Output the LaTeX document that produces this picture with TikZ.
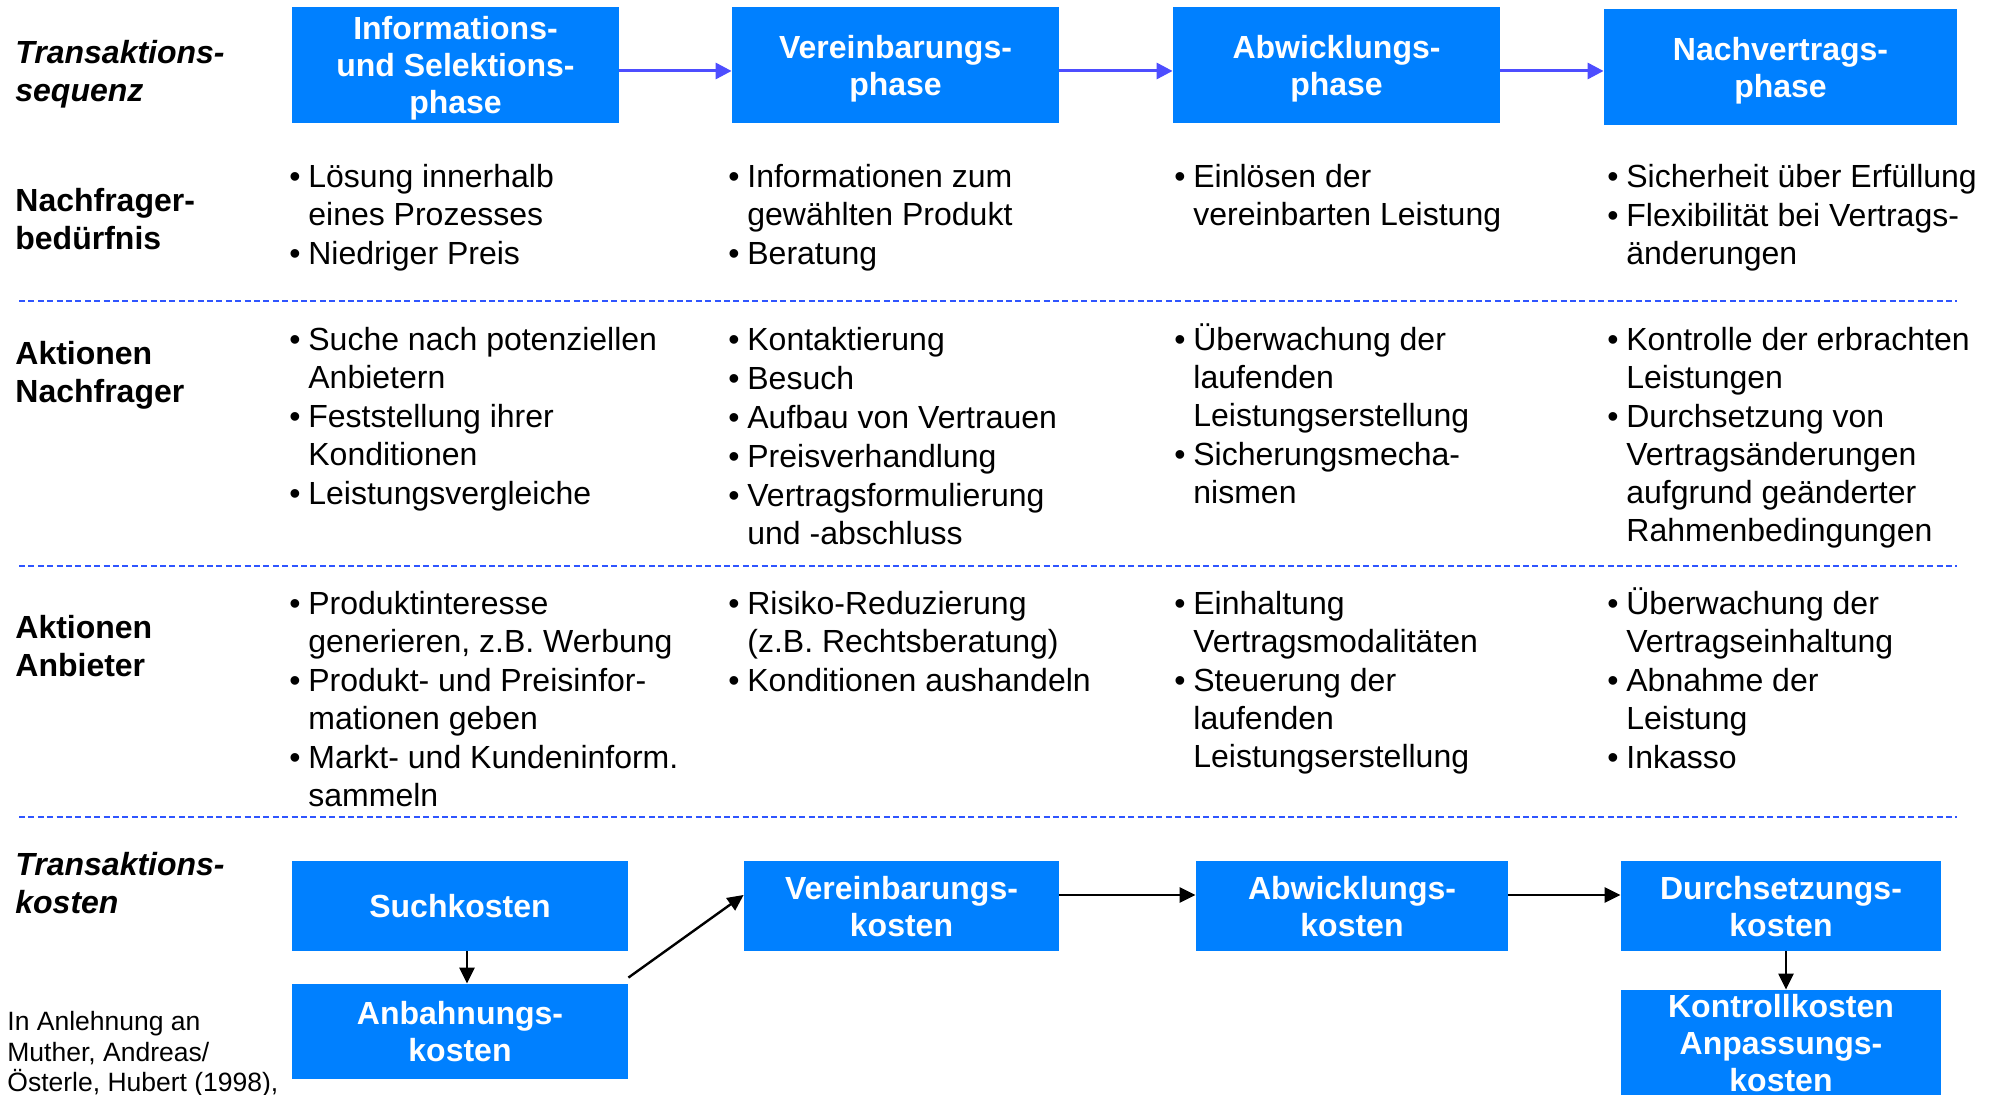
\documentclass[tikz,border=0pt]{standalone}
\usepackage{fontspec}
\setmainfont{Liberation Sans}
\usetikzlibrary{arrows.meta}

\definecolor{boxblue}{HTML}{0080FF}
\definecolor{flowblue}{HTML}{4D4DFF}
\definecolor{rulerblue}{HTML}{2F55FF}

% one bullet point with hanging indent; lines are broken by hand with \\
\newcommand\bitem[1]{\par\hangindent=9.5pt\hangafter=1\noindent\makebox[9.5pt][l]{•}#1}
% a table cell: its reference point is the baseline of the first line
\newcommand\cellbox[1]{\parbox[t]{260pt}{\fontsize{16pt}{18.9pt}\selectfont\setlength\parskip{0.6pt}#1}}
\newcommand\rowhead[1]{\parbox[t]{200pt}{\fontsize{16pt}{18.8pt}\selectfont\bfseries #1}}

\tikzset{
  phasebox/.style={fill=boxblue, text=white, inner sep=0pt, align=center, text depth=0pt,
    font=\bfseries\fontsize{16pt}{18.5pt}\selectfont},
  cell/.style={anchor=base west, inner sep=0pt},
  flow/.style={draw=flowblue, line width=1.5pt, -{Triangle[length=8pt,width=8pt]}},
  costflow/.style={draw=black, line width=1.2pt, -{Triangle[length=8pt,width=7.5pt]}},
  ruler/.style={draw=rulerblue, line width=1pt, dash pattern=on 3pt off 1.7pt}
}

\begin{document}
\begin{tikzpicture}[x=0.5pt, y=-0.5pt]
\useasboundingbox (0,0) rectangle (1999,1095);
\clip (0,0) rectangle (1999,1095);

% --- phases of the transaction ---
\node[phasebox, minimum width=163.5pt, minimum height=58pt] (p1) at (455.5,65) {Informations-\\und Selektions-\\phase};
\node[phasebox, minimum width=163.5pt, minimum height=58pt] (p2) at (895.5,65) {Vereinbarungs-\\phase};
\node[phasebox, minimum width=163.5pt, minimum height=58pt] (p3) at (1336.5,65) {Abwicklungs-\\phase};
\node[phasebox, minimum width=176.5pt, minimum height=58pt] (p4) at (1780.5,67) {Nachvertrags-\\phase};

\draw[flow] ([yshift=-3pt]p1.east) -- ([yshift=-3pt]p2.west);
\draw[flow] ([yshift=-3pt]p2.east) -- ([yshift=-3pt]p3.west);
\draw[flow] ([yshift=-3pt]p3.east) -- ([yshift=-3pt]p3.east -| p4.west);

% --- row headings ---
\node[cell] (h0) at (15,64) {\rowhead{\itshape Transaktions-\\sequenz}};
\node[cell] (h1) at (15,212) {\rowhead{Nachfrager-\\bedürfnis}};
\node[cell] (h2) at (15,365) {\rowhead{Aktionen\\Nachfrager}};
\node[cell] (h3) at (15,639) {\rowhead{Aktionen\\Anbieter}};
\node[cell] (h4) at (15,876) {\rowhead{\itshape Transaktions-\\kosten}};

% --- separators ---
\draw[ruler] (19,301) -- (1957,301);
\draw[ruler] (19,566) -- (1957,566);
\draw[ruler] (19,817) -- (1957,817);

% --- needs of the buyer ---
\node[cell] (a1) at (289,188) {\cellbox{%
  \bitem{Lösung innerhalb\\eines Prozesses}
  \bitem{Niedriger Preis}}};
\node[cell] (a2) at (728,188) {\cellbox{%
  \bitem{Informationen zum\\gewählten Produkt}
  \bitem{Beratung}}};
\node[cell] (a3) at (1174,188) {\cellbox{%
  \bitem{Einlösen der\\vereinbarten Leistung}}};
\node[cell] (a4) at (1607,188) {\cellbox{%
  \bitem{Sicherheit über Erfüllung}
  \bitem{Flexibilität bei Vertrags-\\änderungen}}};

% --- actions of the buyer ---
\node[cell] (b1) at (289,351) {\cellbox{%
  \bitem{Suche nach potenziellen\\Anbietern}
  \bitem{Feststellung ihrer\\Konditionen}
  \bitem{Leistungsvergleiche}}};
\node[cell] (b2) at (728,351) {\cellbox{%
  \bitem{Kontaktierung}
  \bitem{Besuch}
  \bitem{Aufbau von Vertrauen}
  \bitem{Preisverhandlung}
  \bitem{Vertragsformulierung\\und -abschluss}}};
\node[cell] (b3) at (1174,351) {\cellbox{%
  \bitem{Überwachung der\\laufenden\\Leistungserstellung}
  \bitem{Sicherungsmecha-\\nismen}}};
\node[cell] (b4) at (1607,351) {\cellbox{%
  \bitem{Kontrolle der erbrachten\\Leistungen}
  \bitem{Durchsetzung von\\Vertragsänderungen\\aufgrund geänderter\\Rahmenbedingungen}}};

% --- actions of the supplier ---
\node[cell] (c1) at (289,615) {\cellbox{%
  \bitem{Produktinteresse\\generieren, z.B. Werbung}
  \bitem{Produkt- und Preisinfor-\\mationen geben}
  \bitem{Markt- und Kundeninform.\\sammeln}}};
\node[cell] (c2) at (728,615) {\cellbox{%
  \bitem{Risiko-Reduzierung\\(z.B. Rechtsberatung)}
  \bitem{Konditionen aushandeln}}};
\node[cell] (c3) at (1174,615) {\cellbox{%
  \bitem{Einhaltung\\Vertragsmodalitäten}
  \bitem{Steuerung der\\laufenden\\Leistungserstellung}}};
\node[cell] (c4) at (1607,615) {\cellbox{%
  \bitem{Überwachung der\\Vertragseinhaltung}
  \bitem{Abnahme der\\Leistung}
  \bitem{Inkasso}}};

% --- transaction costs ---
\node[phasebox, minimum width=168pt, minimum height=45pt] (such) at (460,906) {Suchkosten};
\node[phasebox, minimum width=168pt, minimum height=47.5pt] (anb) at (460,1031.5) {Anbahnungs-\\kosten};
\node[phasebox, minimum width=157.5pt, minimum height=45pt] (ver) at (901.5,906) {Vereinbarungs-\\kosten};
\node[phasebox, minimum width=156pt, minimum height=45pt] (abw) at (1352,906) {Abwicklungs-\\kosten};
\node[phasebox, minimum width=160pt, minimum height=45pt] (dur) at (1781,906) {Durchsetzungs-\\kosten};
\node[phasebox, minimum width=160pt, minimum height=53pt] (kon) at (1781,1043) {Kontrollkosten\\Anpassungs-\\kosten};

\draw[costflow] ([xshift=3.5pt]such.south) -- ([xshift=3.5pt]anb.north);
\draw[costflow] ([yshift=3pt]anb.north east) -- ([yshift=5.5pt]ver.west);
\draw[costflow] ([yshift=5.5pt]ver.east) -- ([yshift=5.5pt]abw.west);
\draw[costflow] ([yshift=5.5pt]abw.east) -- ([yshift=5.5pt]dur.west);
\draw[costflow] ([xshift=2.5pt]dur.south) -- ([xshift=2.5pt]kon.north);

% --- source ---
\node[cell] (src) at (7,1031) {\parbox[t]{220pt}{\fontsize{13.25pt}{15.25pt}\selectfont
  In Anlehnung an\\Muther, Andreas/\\Österle, Hubert (1998),}};
\end{tikzpicture}
\end{document}
